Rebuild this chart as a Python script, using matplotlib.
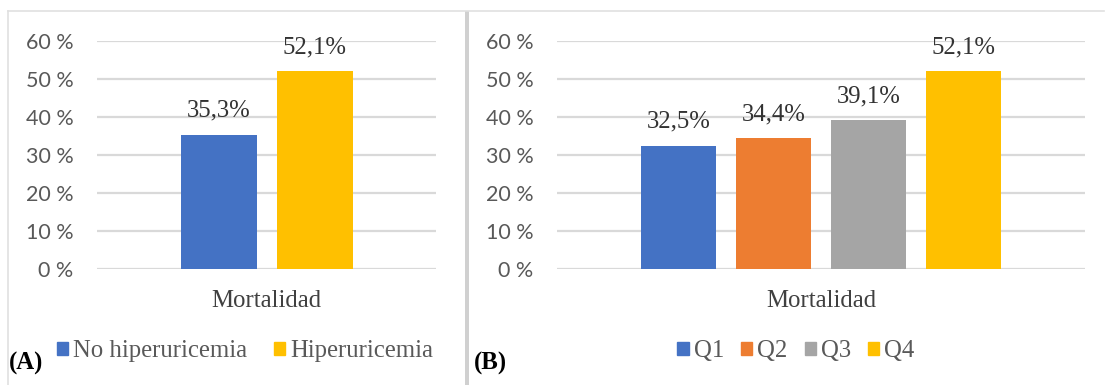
import matplotlib.pyplot as plt
from matplotlib.patches import Rectangle, Patch
from matplotlib.lines import Line2D

# mortality by uricemia group
groups_a = ['No hiperuricemia', 'Hiperuricemia']
mort_a = [35.3, 52.1]
colors_a = ['#4472c4', '#ffc000']

# mortality by uric acid quartile
groups_b = ['Q1', 'Q2', 'Q3', 'Q4']
mort_b = [32.5, 34.4, 39.1, 52.1]
colors_b = ['#4472c4', '#ed7d31', '#a5a5a5', '#ffc000']

category = 'Mortalidad'
yticks = [0, 10, 20, 30, 40, 50, 60]

W, H = 1105, 385
fig = plt.figure(figsize=(W / 100, H / 100), dpi=100)
fig.patch.set_facecolor('white')

serif = ['Liberation Serif', 'DejaVu Serif']
sans = ['Lato', 'DejaVu Sans']
grid_c = '#d9d9d9'
fs = 17.8


def px(x0, y0, x1, y1):
    # pixel box (top-left origin) -> figure fraction rect
    return [x0 / W, 1 - y1 / H, (x1 - x0) / W, (y1 - y0) / H]


def panel(box, names, vals, cols, bw, gap):
    ax = fig.add_axes(px(*box))
    span = box[2] - box[0]
    n = len(vals)
    pos = [(i - (n - 1) / 2) * (bw + gap) for i in range(n)]
    ax.bar(pos, vals, width=bw, color=cols, zorder=3)
    for p, v in zip(pos, vals):
        ax.annotate(f'{v:.1f}%'.replace('.', ','), (p, v), xytext=(0, 13),
                    textcoords='offset points', ha='center', va='baseline',
                    family=serif, fontsize=fs, color='#333333')
    ax.set_xlim(-span / 2, span / 2)
    ax.set_ylim(0, 60)
    ax.set_yticks(yticks)
    ax.set_yticklabels([f'{t} %' for t in yticks], family=sans, fontsize=15.5, color='#595959')
    ax.tick_params(axis='y', length=0, pad=17)
    ax.set_xticks([0])
    ax.set_xticklabels([category], family=serif, fontsize=fs, color='#404040')
    ax.tick_params(axis='x', length=0, pad=15)
    for s in ax.spines.values():
        s.set_visible(False)
    ax.yaxis.grid(True, color=grid_c, lw=1.6, zorder=0)
    ax.set_facecolor('none')
    return ax


panel((97, 41, 436, 269), groups_a, mort_a, colors_a, 76, 20)
panel((557, 41, 1085, 269), groups_b, mort_b, colors_b, 75, 20)

# legends
leg_kw = dict(loc='center', frameon=False, prop={'family': serif, 'size': fs},
              handlelength=0.45, handleheight=0.45, handletextpad=0.2,
              labelcolor='#595959', borderpad=0)
handles_a = [Patch(color=c, label=g) for g, c in zip(groups_a, colors_a)]
fig.legend(handles=handles_a, bbox_to_anchor=(245 / W, 1 - 351 / H), ncol=2,
           columnspacing=1.1, **leg_kw)
handles_b = [Patch(color=c, label=g) for g, c in zip(groups_b, colors_b)]
fig.legend(handles=handles_b, bbox_to_anchor=(796 / W, 1 - 351 / H), ncol=4,
           columnspacing=0.7, **leg_kw)

# panel letters
fig.text(9 / W, 1 - 363 / H, '(A)', family=serif, fontsize=fs, fontweight='bold', va='center')
fig.text(474 / W, 1 - 363 / H, '(B)', family=serif, fontsize=fs, fontweight='bold', va='center')

# panel frames
fig.add_artist(Line2D([8 / W, 8 / W], [0, 1 - 11 / H], color='#e0e0e0', lw=1.2))
fig.add_artist(Line2D([8 / W, 1104 / W], [1 - 11 / H, 1 - 11 / H], color='#e0e0e0', lw=1.2))
fig.add_artist(Rectangle((465 / W, 0), 4 / W, 1 - 11 / H, color='#d0d0d0', lw=0))

fig.savefig('out.png', dpi=100)
